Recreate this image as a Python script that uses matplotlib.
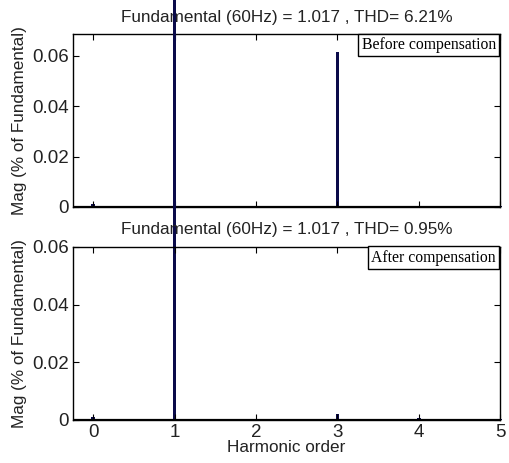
import matplotlib
matplotlib.use("Agg")
import matplotlib.pyplot as plt

# harmonic spectrum, order resolution 0.1
orders = [0.0, 0.1, 0.2, 0.3, 0.4, 0.5, 0.6, 0.7, 0.8, 0.9,
          1.0, 1.1, 1.2, 1.3, 1.4, 1.5, 1.6, 1.7, 1.8, 1.9,
          2.0, 2.1, 2.2, 2.3, 2.4, 2.5, 2.6, 2.7, 2.8, 2.9,
          3.0, 3.1, 3.2, 3.3, 3.4, 3.5, 3.6, 3.7, 3.8, 3.9,
          4.0, 4.1, 4.2, 4.3, 4.4, 4.5, 4.6, 4.7, 4.8, 4.9, 5.0]
mag_before = [0.0012, 0.0004, 0.0003, 0.0004, 0.0003, 0.0004, 0.0003, 0.0004, 0.0004, 0.0005,
              1.0, 0.0005, 0.0004, 0.0003, 0.0004, 0.0003, 0.0004, 0.0003, 0.0004, 0.0003,
              0.0004, 0.0003, 0.0004, 0.0003, 0.0004, 0.0003, 0.0004, 0.0003, 0.0004, 0.0004,
              0.0615, 0.0004, 0.0003, 0.0004, 0.0003, 0.0004, 0.0003, 0.0004, 0.0003, 0.0004,
              0.0005, 0.0003, 0.0004, 0.0003, 0.0004, 0.0003, 0.0004, 0.0003, 0.0004, 0.0003, 0.0004]
mag_after = [0.0010, 0.0004, 0.0003, 0.0004, 0.0003, 0.0004, 0.0003, 0.0004, 0.0004, 0.0005,
             1.0, 0.0005, 0.0004, 0.0003, 0.0004, 0.0003, 0.0004, 0.0003, 0.0004, 0.0003,
             0.0004, 0.0003, 0.0004, 0.0003, 0.0004, 0.0003, 0.0004, 0.0003, 0.0004, 0.0004,
             0.0022, 0.0004, 0.0003, 0.0004, 0.0003, 0.0004, 0.0003, 0.0004, 0.0003, 0.0004,
             0.0008, 0.0003, 0.0004, 0.0003, 0.0004, 0.0003, 0.0004, 0.0003, 0.0004, 0.0003, 0.0004]

titles = ["Fundamental (60Hz) = 1.017 , THD= 6.21%",
          "Fundamental (60Hz) = 1.017 , THD= 0.95%"]
labels = ["Before compensation", "After compensation"]
ylims = [0.0684, 0.06]
yticks = [0, 0.02, 0.04, 0.06]
ytick_labels = ["0", "0.02", "0.04", "0.06"]
xticks = [0, 1, 2, 3, 4, 5]

plt.rcParams["font.family"] = ["Liberation Sans", "DejaVu Sans"]

fig = plt.figure(figsize=(5.09, 4.63), dpi=100)
ax1 = fig.add_axes([0.1434, 0.553, 0.839, 0.3726])
ax2 = fig.add_axes([0.1434, 0.0929, 0.839, 0.3737])
axes = [ax1, ax2]
data = [mag_before, mag_after]

bar_color = "#0b0b4a"
text_color = "#222222"

for i in range(2):
    ax = axes[i]
    bars = ax.bar(orders, data[i], width=0.045, color=bar_color, linewidth=0)
    for b in bars:
        b.set_clip_on(False)
    ax.axhline(0, color="black", lw=1.6, zorder=3)
    ax.set_xlim(-0.25, 5.0)
    ax.set_ylim(0, ylims[i])
    ax.set_xticks(xticks)
    ax.set_yticks(yticks)
    ax.set_yticklabels(ytick_labels)
    ax.tick_params(direction="in", top=True, right=True, length=4, labelsize=13.5,
                   labelcolor=text_color, pad=3)
    ax.set_title(titles[i], fontsize=12.3, pad=9, color=text_color)
    ax.set_ylabel("Mag (% of Fundamental)", fontsize=12.3, color=text_color, labelpad=4)
    for s in ax.spines.values():
        s.set_linewidth(1.0)
    ax.text(0.99, 0.985, labels[i], transform=ax.transAxes, ha="right", va="top",
            fontsize=11.3, family=["Liberation Serif", "DejaVu Serif"],
            bbox=dict(boxstyle="square,pad=0.22", fc="white", ec="black", lw=1.0),
            zorder=5)

ax1.set_xticklabels([])
ax2.set_xlabel("Harmonic order", fontsize=12.3, labelpad=-1, color=text_color)

fig.savefig("out.png", dpi=100)
